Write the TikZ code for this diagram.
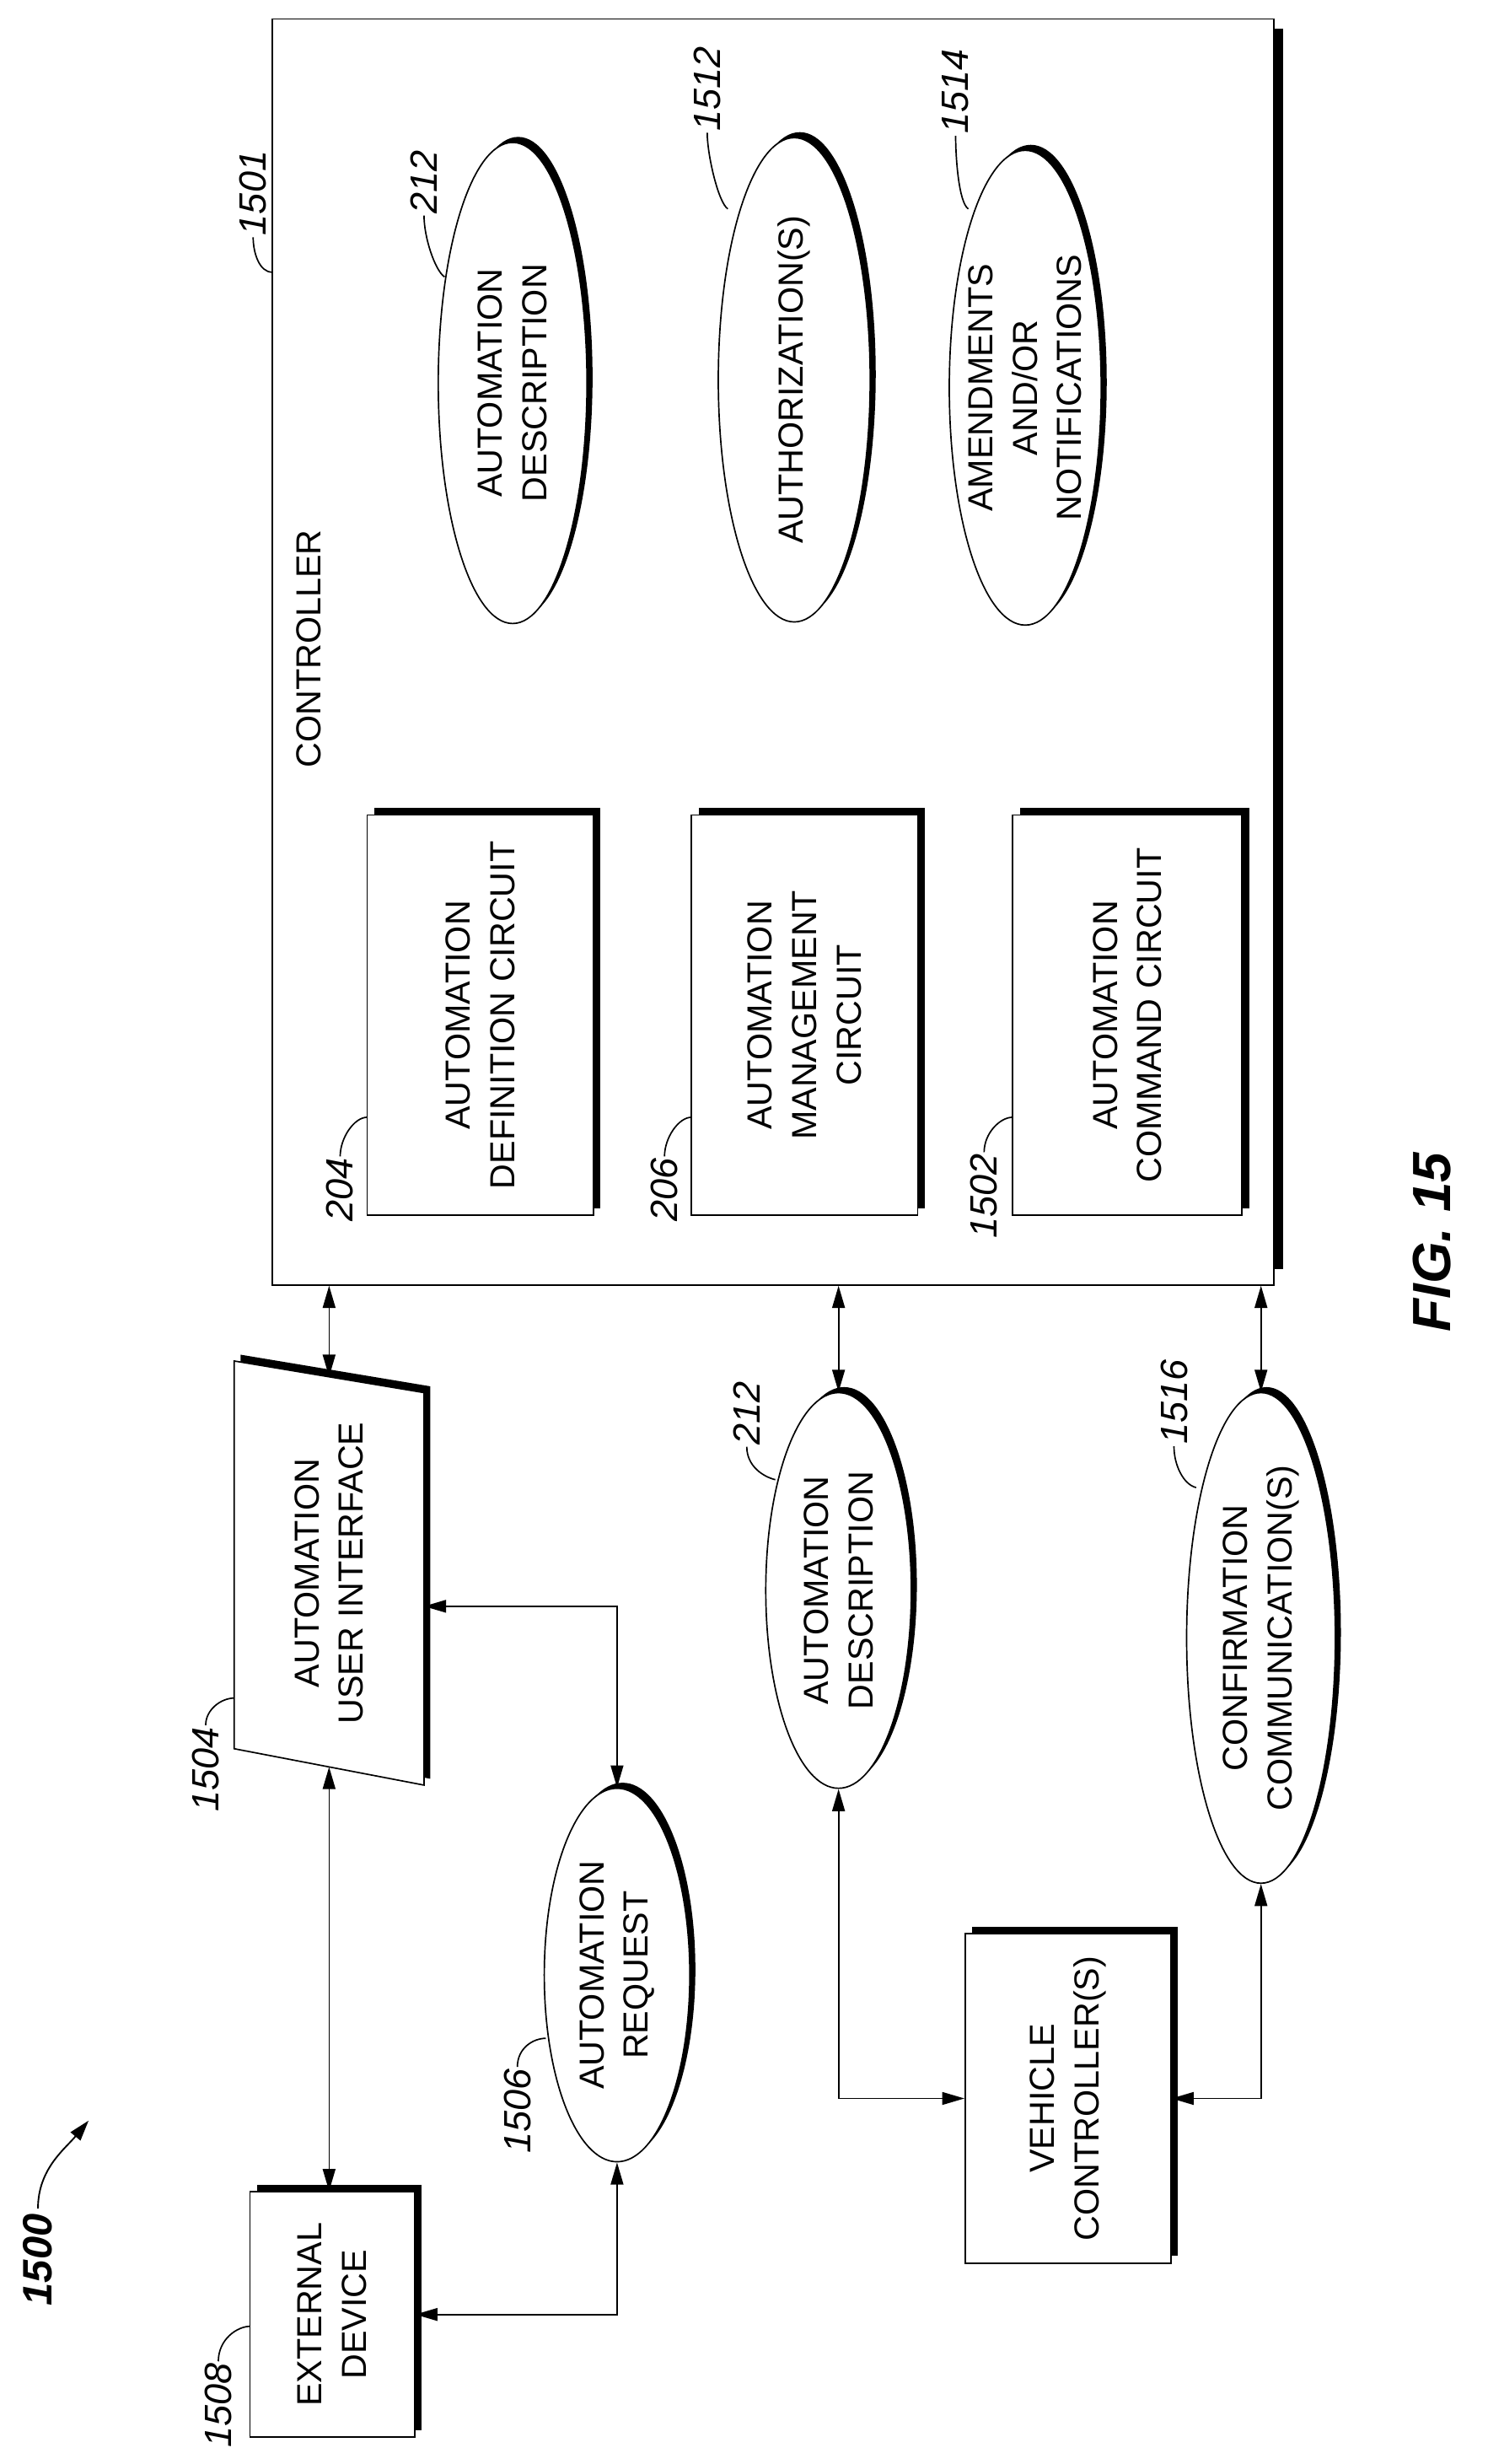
\documentclass[tikz,border=0pt]{standalone}
\usepackage{fontspec}
\setmainfont{Liberation Sans}
\usetikzlibrary{arrows.meta,shadows,shapes.geometric}
\begin{document}
\begin{tikzpicture}[x=1pt,y=-1pt,
  txt/.style={rotate=90,align=center,font=\fontsize{22}{28}\selectfont},
  lab/.style={rotate=90,font=\fontsize{24}{26}\selectfont\itshape,inner sep=1pt},
  lead/.style={line width=0.9pt},
  shp/.style={draw,fill=white,line width=0.9pt,inner sep=0pt},
  bx/.style={shp,rectangle,drop shadow={shadow xshift=4.5pt,shadow yshift=4.5pt,fill=black,opacity=1}},
  el/.style={shp,ellipse,drop shadow={shadow xshift=3.5pt,shadow yshift=3.5pt,fill=black,opacity=1}},
  arr/.style={line width=0.9pt,{Triangle[length=14pt,width=8pt]}-{Triangle[length=14pt,width=8pt]}}]
\useasboundingbox (0,0) rectangle (940,1557);
% controller
\fill[black] (800,18) rectangle (811,802);
\node[shp,rectangle,minimum width=633pt,minimum height=800pt] (ctrl) at (488.5,412) {};
\node[txt] (ctrltxt) at (195,410) {CONTROLLER};
% inner boxes
\node[bx,minimum width=143pt,minimum height=253pt] (def) at (303.5,641.5) {};
\node[txt] at (def.center) {AUTOMATION\\DEFINITION CIRCUIT};
\node[bx,minimum width=143pt,minimum height=253pt] (mgmt) at (508.5,641.5) {};
\node[txt] at (mgmt.center) {AUTOMATION\\MANAGEMENT\\CIRCUIT};
\node[bx,minimum width=145pt,minimum height=253pt] (cmd) at (712.5,641.5) {};
\node[txt] at (cmd.center) {AUTOMATION\\COMMAND CIRCUIT};
% inner ellipses
\node[el,minimum width=94pt,minimum height=304pt] (d1) at (324,242) {};
\node[txt] at (d1.center) {AUTOMATION\\DESCRIPTION};
\node[el,minimum width=96pt,minimum height=306pt] (auth) at (502,240) {};
\node[txt] at (auth.center) {AUTHORIZATION(S)};
\node[el,minimum width=96pt,minimum height=300pt] (amend) at (648,245) {};
\node[txt] at (amend.center) {AMENDMENTS\\AND/OR\\NOTIFICATIONS};
% UI parallelogram
\fill[black] (152,856) -- (272,876) -- (272,1124) -- (152,1101) -- cycle;
\draw[fill=white,line width=0.9pt] (148,860) -- (268,880) -- (268,1128) -- (148,1105) -- cycle;
\coordinate (uitop) at (208,870);
\coordinate (uibot) at (208,1116.5);
\coordinate (uiright) at (268,1015);
\node[txt] (uitxt) at (208,994) {AUTOMATION\\USER INTERFACE};
% left column
\node[bx,minimum width=104pt,minimum height=155pt] (ext) at (210,1462.5) {};
\node[txt] at (ext.center) {EXTERNAL\\DEVICE};
\node[el,minimum width=92pt,minimum height=236pt] (req) at (390,1248) {};
\node[txt] at (req.center) {AUTOMATION\\REQUEST};
\node[el,minimum width=92pt,minimum height=250pt] (d2) at (530,1005) {};
\node[txt] at (d2.center) {AUTOMATION\\DESCRIPTION};
\node[bx,minimum width=130pt,minimum height=208pt] (veh) at (675,1326) {};
\node[txt] at (veh.center) {VEHICLE\\CONTROLLER(S)};
\node[el,minimum width=94pt,minimum height=310pt] (conf) at (797,1035) {};
\node[txt] at (conf.center) {CONFIRMATION\\COMMUNICATION(S)};
% connectors
\draw[arr] (ctrl.south -| uitop) -- (uitop);
\draw[arr] (uibot) -- (ext.north -| uibot);
\draw[arr] (uiright) -| (req.north);
\draw[arr] (ext.east) -| (req.south);
\draw[arr] (ctrl.south -| d2.north) -- (d2.north);
\draw[arr] (d2.south) |- (veh.west);
\draw[arr] (ctrl.south -| conf.north) -- (conf.north);
\draw[arr] (veh.east) -| (conf.south);
% labels
\coordinate (t1501) at (172,172);
\node[lab] (l1501) at (160,122) {1501};
\draw[lead] (l1501.west) .. controls +(0,10) and +(-8,0) .. (t1501);
\coordinate (t212a) at (281,175);
\node[lab] (l212a) at (268,115) {212};
\draw[lead] (l212a.west) .. controls +(0,14) and +(-6,-4) .. (t212a);
\coordinate (t1512) at (460,132);
\node[lab] (l1512) at (447,56) {1512};
\draw[lead] (l1512.west) .. controls +(0,14) and +(-6,-4) .. (t1512);
\coordinate (t1514) at (612,132);
\node[lab] (l1514) at (604,58) {1514};
\draw[lead] (l1514.west) .. controls +(0,14) and +(-6,-4) .. (t1514);
\coordinate (t204) at (232,706);
\node[lab] (l204) at (215,752) {204};
\draw[lead] (l204.east) .. controls +(0,-12) and +(-8,0) .. (t204);
\coordinate (t206) at (437,706);
\node[lab] (l206) at (420,752) {206};
\draw[lead] (l206.east) .. controls +(0,-12) and +(-8,0) .. (t206);
\coordinate (t1502) at (640,706);
\node[lab] (l1502) at (622,756) {1502};
\draw[lead] (l1502.east) .. controls +(0,-12) and +(-8,0) .. (t1502);
\coordinate (t1504) at (148,1073);
\node[lab] (l1504) at (130,1118) {1504};
\draw[lead] (l1504.east) .. controls +(0,-10) and +(-8,0) .. (t1504);
\coordinate (t1506) at (345,1288);
\node[lab] (l1506) at (327,1334) {1506};
\draw[lead] (l1506.east) .. controls +(0,-12) and +(-8,0) .. (t1506);
\coordinate (t1508) at (158,1470);
\node[lab] (l1508) at (138,1520) {1508};
\draw[lead] (l1508.east) .. controls +(0,-14) and +(-8,0) .. (t1508);
\coordinate (t212b) at (490,935);
\node[lab] (l212b) at (472,893) {212};
\draw[lead] (l212b.west) .. controls +(0,12) and +(-8,-2) .. (t212b);
\coordinate (t1516) at (756,940);
\node[lab] (l1516) at (742,886) {1516};
\draw[lead] (l1516.west) .. controls +(0,12) and +(-8,-2) .. (t1516);
% figure labels
\node[rotate=90,font=\fontsize{26}{28}\selectfont\bfseries\itshape] (l1500) at (24,1428) {1500};
\coordinate (a1500) at (56,1340);
\draw[line width=1pt,-{Triangle[length=13pt,width=8pt]}] (l1500.east) .. controls +(0,-25) and +(-15,18) .. (a1500);
\node[rotate=90,font=\fontsize{34}{38}\selectfont\bfseries\itshape] (fig) at (905,785) {FIG. 15};
\end{tikzpicture}
\end{document}
